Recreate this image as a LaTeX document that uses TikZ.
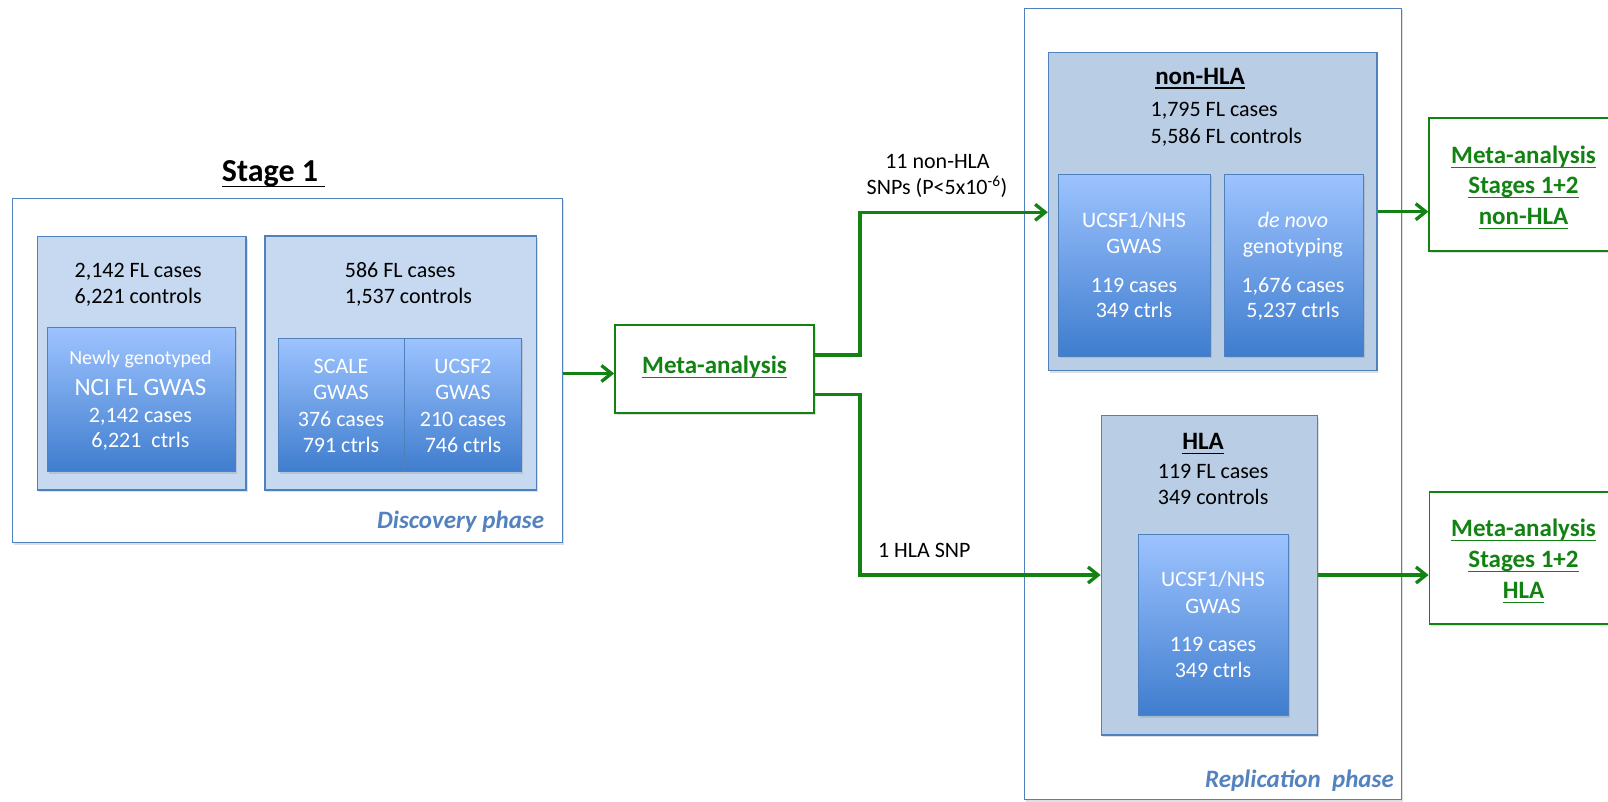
\documentclass[tikz,border=0pt]{standalone}
\usepackage{fontspec}
\setmainfont{Carlito}
\usetikzlibrary{fit,shadows,arrows.meta}
\definecolor{bblue}{RGB}{79,129,189}
\definecolor{lightA}{RGB}{198,217,240}
\definecolor{lightB}{RGB}{185,205,229}
\definecolor{gtop}{RGB}{157,195,255}
\definecolor{gbot}{RGB}{63,125,206}
\definecolor{mgreen}{RGB}{18,130,18}
\definecolor{phaseblue}{RGB}{84,130,190}
\newcommand\fsz[1]{\fontsize{#1}{#1}\selectfont}
\newcommand\ulx[2]{\setbox0=\hbox{#2}\rlap{\vrule height -#1 depth \dimexpr #1+1.6pt\relax width \wd0}\box0}
\begin{document}
\begin{tikzpicture}[x=1pt,y=-1pt,
  shad/.style={drop shadow={opacity=0.25,shadow xshift=1.5pt,shadow yshift=-2pt}},
  outerbox/.style={draw=bblue,line width=1.4pt,fill=white,inner sep=0pt,shad},
  lightboxA/.style={draw=bblue,line width=1.5pt,fill=lightA,inner sep=0pt,shad},
  lightboxB/.style={draw=bblue,line width=1.5pt,fill=lightB,inner sep=0pt,shad},
  gradbox/.style={draw=bblue,line width=1pt,top color=gtop,bottom color=gbot,inner sep=0pt,shad},
  metabox/.style={draw=mgreen,line width=1.8pt,fill=white,inner sep=0pt,shad},
  bodytxt/.style={inner sep=0pt,anchor=base,font=\fsz{22}},
  whitetxt/.style={bodytxt,text=white},
  titletxt/.style={inner sep=0pt,anchor=base,font=\fsz{25}\bfseries},
  metatxt/.style={titletxt,text=mgreen},
  phasetxt/.style={inner sep=0pt,anchor=base east,font=\fsz{25}\bfseries\itshape,text=phaseblue},
  arr/.style={draw=mgreen,line width=3.3pt,line join=miter,-{Straight Barb[length=10pt,width=16pt]}}
]
\useasboundingbox (0,0) rectangle (1608,801);

% ---------- Stage 1 ----------
\node[inner sep=0pt,anchor=base,font=\fsz{32}\bfseries] (stage) at (273.6,181.7) {\ulx{4pt}{Stage 1\ }};
\node[outerbox,fit={(12.7,198.3) (562.4,542.7)}] (disc) {};
\node[lightboxA,fit={(37.4,236.7) (246,490)}] (l1) {};
\node[lightboxA,fit={(264.9,236) (536.3,490)}] (r1) {};
\node[gradbox,fit={(47.9,327.7) (235.8,471.7)}] (nci) {};
\node[gradbox,fit={(278.7,338.3) (404.6,471.7)}] (scale) {};
\node[gradbox,fit={(404.6,338.3) (521.4,471.7)}] (ucsftwo) {};

\node[bodytxt,anchor=base west] (l1a) at (74.4,277.3) {2,142 FL cases};
\node[bodytxt,anchor=base west] (l1b) at (74.4,303.3) {6,221 controls};
\node[whitetxt,font=\fsz{20}] (ncia) at (140.4,364) {Newly genotyped};
\node[whitetxt,font=\fsz{25}] (ncib) at (140.4,395) {NCI FL GWAS};
\node[whitetxt] (ncic) at (140.4,422) {2,142 cases};
\node[whitetxt] (ncid) at (140.4,447.7) {6,221\ \ ctrls};

\node[bodytxt,anchor=base west] (r1a) at (344.7,277.3) {586 FL cases};
\node[bodytxt,anchor=base west] (r1b) at (344.7,303.3) {1,537 controls};
\node[whitetxt] (sca) at (341,373.7) {SCALE};
\node[whitetxt] (scb) at (341,399.7) {GWAS};
\node[whitetxt] (scc) at (341,426.3) {376 cases};
\node[whitetxt] (scd) at (341,452.7) {791 ctrls};
\node[whitetxt] (uca) at (463,373.7) {UCSF2};
\node[whitetxt] (ucb) at (463,399.7) {GWAS};
\node[whitetxt] (ucc) at (463,426.3) {210 cases};
\node[whitetxt] (ucd) at (463,452.7) {746 ctrls};
\node[phasetxt] (discl) at (544.3,528) {Discovery phase};

% ---------- Meta-analysis ----------
\node[metabox,fit={(615,325) (814,412.7)}] (meta) {};
\node[metatxt] (metal) at (714.5,373.3) {\ulx{3.5pt}{Meta-analysis}};

% ---------- Replication ----------
\node[outerbox,fit={(1024.4,8.3) (1401.3,799.5)}] (repl) {};
\node[lightboxB,fit={(1048.5,52.3) (1376.9,370.7)}] (nonhla) {};
\node[gradbox,fit={(1058.9,174) (1210.2,356)}] (ucsfa) {};
\node[gradbox,fit={(1224.1,174) (1363.3,356)}] (denovo) {};
\node[titletxt] (nht) at (1200,84) {\ulx{3pt}{non-HLA}};
\node[bodytxt,anchor=base west] (nha) at (1150.4,116.3) {1,795 FL cases};
\node[bodytxt,anchor=base west] (nhb) at (1150.4,143) {5,586 FL controls};
\node[whitetxt] (ua1) at (1134,227) {UCSF1/NHS};
\node[whitetxt] (ua2) at (1134,253.7) {GWAS};
\node[whitetxt] (ua3) at (1134,292) {119 cases};
\node[whitetxt] (ua4) at (1134,317.7) {349 ctrls};
\node[whitetxt] (dn1) at (1293,227) {\textit{de novo}};
\node[whitetxt] (dn2) at (1293,253.7) {genotyping};
\node[whitetxt] (dn3) at (1293,292) {1,676 cases};
\node[whitetxt] (dn4) at (1293,317.7) {5,237 ctrls};

\node[lightboxB,fit={(1101.4,415.7) (1317.5,735)}] (hla) {};
\node[gradbox,fit={(1138.1,534) (1288.8,715.7)}] (ucsfb) {};
\node[titletxt] (hlat) at (1203,449.7) {\ulx{3pt}{HLA}};
\node[bodytxt,anchor=base west] (hla1) at (1157.7,478.7) {119 FL cases};
\node[bodytxt,anchor=base west] (hla2) at (1157.7,504.3) {349 controls};
\node[whitetxt] (ub1) at (1213,586.3) {UCSF1/NHS};
\node[whitetxt] (ub2) at (1213,613) {GWAS};
\node[whitetxt] (ub3) at (1213,651) {119 cases};
\node[whitetxt] (ub4) at (1213,677) {349 ctrls};
\node[phasetxt] (repll) at (1394,787) {Replication\ \ phase};

% ---------- right meta boxes ----------
\node[metabox,fit={(1429.2,118.3) (1625,250.7)}] (rmeta1) {};
\node[metatxt] (rm1a) at (1523.5,163) {\ulx{3.5pt}{Meta-analysis}};
\node[metatxt] (rm1b) at (1523.5,193) {\ulx{3.5pt}{Stages 1+2}};
\node[metatxt] (rm1c) at (1523.5,224) {\ulx{3.5pt}{non-HLA}};
\node[metabox,fit={(1429.5,492.3) (1625,624.3)}] (rmeta2) {};
\node[metatxt] (rm2a) at (1523.5,536.3) {\ulx{3.5pt}{Meta-analysis}};
\node[metatxt] (rm2b) at (1523.5,567) {\ulx{3.5pt}{Stages 1+2}};
\node[metatxt] (rm2c) at (1523.5,598) {\ulx{3.5pt}{HLA}};

% ---------- connector labels ----------
\node[bodytxt] (snp1) at (937.5,168) {11 non-HLA};
\node[bodytxt] (snp2) at (937,194) {SNPs (P<5x10\textsuperscript{-6})};
\node[bodytxt,anchor=base west] (snp3) at (877.8,557) {1 HLA SNP};

% ---------- connectors ----------
\coordinate (ya) at (0,373.5);
\coordinate (yb) at (0,355);
\coordinate (yc) at (0,394.3);
\coordinate (up) at (860,212.3);
\coordinate (dn) at (860,575);
\coordinate (yd) at (0,211.7);
\draw[arr] (disc.east |- ya) -- (meta.west |- ya);
\draw[arr] (meta.east |- yb) -- (up |- yb) -- (up) -- (nonhla.west |- up);
\draw[arr] (meta.east |- yc) -- (dn |- yc) -- (dn) -- (hla.west |- dn);
\draw[arr] (nonhla.east |- yd) -- (rmeta1.west |- yd);
\draw[arr] (hla.east |- dn) -- (rmeta2.west |- dn);
\end{tikzpicture}
\end{document}
